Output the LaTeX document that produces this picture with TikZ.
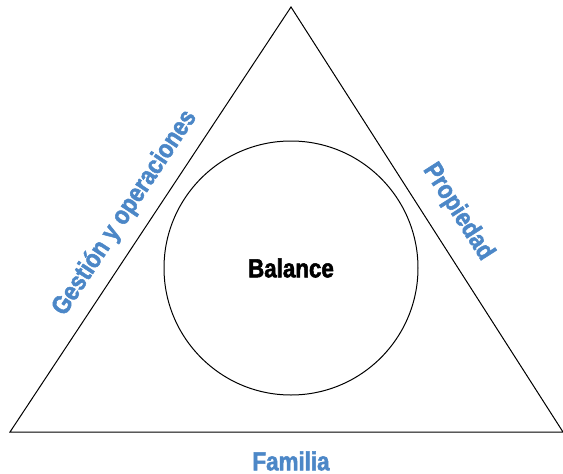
\documentclass[tikz,border=0pt]{standalone}
\usepackage{fontspec}
\usepackage{tikz}
\usetikzlibrary{positioning,calc}
\newfontfamily\condfont[FakeStretch=0.86,FakeBold=2]{Liberation Sans Bold}
\definecolor{pillarBlue}{HTML}{4C87C7}

\begin{document}
\begin{tikzpicture}[x=1pt,y=-1pt,line width=1pt,
    pillar/.style={text=pillarBlue,font=\condfont\fontsize{26}{30}\selectfont,inner sep=0pt},
    core/.style={draw,circle,minimum size=254pt,inner sep=0pt,
                 font=\condfont\fontsize{26}{30}\selectfont}]
  \useasboundingbox (0,0) rectangle (563,474);
  \coordinate (apex) at (291,7);
  \coordinate (bl) at (10,432);
  \coordinate (br) at (563,432);
  \draw (apex) -- (bl) -- (br) -- cycle;
  \node[core] (balance) at (291,268) {Balance};
  \node[pillar,rotate=56.5] (gestion) at (125,213) {Gestión y operaciones};
  \node[pillar,rotate=-57.4] (propiedad) at (458,212) {Propiedad};
  \node[pillar] (familia) at (291,461) {Familia};
\end{tikzpicture}
\end{document}
